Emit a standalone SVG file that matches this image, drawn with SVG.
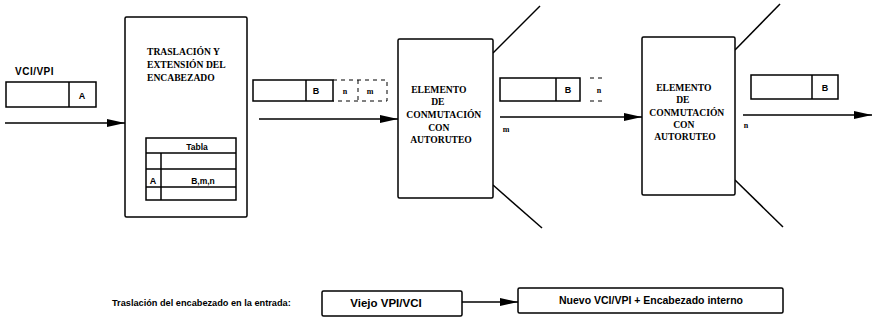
<svg xmlns="http://www.w3.org/2000/svg" width="872" height="336" viewBox="0 0 872 336">
<defs>
<marker id="ah" markerWidth="18" markerHeight="10" refX="18" refY="5" orient="auto" markerUnits="userSpaceOnUse">
<path d="M0,1 L18,5 L0,9 Z" fill="#000"/>
</marker>
<style>
.bx{fill:#fff;stroke:#000;stroke-width:1.5}
.ln{fill:none;stroke:#000;stroke-width:1.5}
.ds{fill:none;stroke:#000;stroke-width:1;stroke-dasharray:4 4}
.ser{font-family:"Liberation Serif","Times New Roman",serif;font-weight:bold;fill:#000}
.san{font-family:"Liberation Sans",Arial,sans-serif;font-weight:bold;fill:#000}
</style>
</defs>
<rect width="872" height="336" fill="#fff"/>
<g id="connectors">
<line class="ln" x1="5" y1="123" x2="125" y2="123" marker-end="url(#ah)"/>
<line class="ln" x1="259" y1="119" x2="398" y2="119" marker-end="url(#ah)"/>
<line class="ln" x1="500" y1="117" x2="642" y2="117" marker-end="url(#ah)"/>
<line class="ln" x1="743" y1="115" x2="872" y2="115" marker-end="url(#ah)"/>
<line class="ln" x1="493" y1="53" x2="540" y2="6"/>
<line class="ln" x1="493" y1="185" x2="542" y2="228"/>
<line class="ln" x1="735" y1="50" x2="780" y2="4"/>
<line class="ln" x1="735" y1="180" x2="783" y2="227"/>
<line class="ln" x1="462" y1="302" x2="518" y2="302" marker-end="url(#ah)"/>
</g>
<g id="vci-input">
<text class="san" x="15" y="75" font-size="10" letter-spacing="0.5">VCI/VPI</text>
<rect class="bx" x="6" y="82" width="90" height="25"/>
<line class="ln" x1="69" y1="82" x2="69" y2="107"/>
<text class="san" x="82" y="99" font-size="9" text-anchor="middle">A</text>
</g>
<g id="traslacion">
<rect class="bx" x="125" y="17" width="122" height="200" rx="1.5"/>
<text class="ser" x="147" y="55" font-size="9.6">TRASLACIÓN Y</text>
<text class="ser" x="147" y="68" font-size="9.6">EXTENSIÓN DEL</text>
<text class="ser" x="147" y="81" font-size="9.6">ENCABEZADO</text>
<g id="tabla">
<rect class="bx" x="146" y="138" width="90" height="62"/>
<line class="ln" x1="146" y1="153" x2="236" y2="153"/>
<line class="ln" x1="146" y1="169" x2="236" y2="169"/>
<line class="ln" x1="146" y1="187" x2="236" y2="187"/>
<line class="ln" x1="161" y1="153" x2="161" y2="200"/>
<text class="san" x="197" y="150" font-size="8.5" text-anchor="middle">Tabla</text>
<text class="san" x="153" y="184" font-size="9" text-anchor="middle">A</text>
<text class="san" x="203" y="184" font-size="8.5" text-anchor="middle">B,m,n</text>
</g>
</g>
<g id="cell1">
<rect class="bx" x="253" y="80" width="80" height="21"/>
<line class="ln" x1="306" y1="80" x2="306" y2="101"/>
<text class="san" x="316" y="94" font-size="9" text-anchor="middle">B</text>
<path class="ds" d="M333,80 H387 V101 H333 M358,80 V101"/>
<text class="ser" x="345" y="94" font-size="8" text-anchor="middle">n</text>
<text class="ser" x="370" y="94" font-size="8" text-anchor="middle">m</text>
</g>
<g id="elemento1">
<rect class="bx" x="398" y="39" width="95" height="159" rx="1.5"/>
<text class="ser" font-size="9.6" text-anchor="middle">
<tspan x="440" y="93">ELEMENTO</tspan>
<tspan x="439" y="105">DE</tspan>
<tspan x="445" y="118">CONMUTACIÓN</tspan>
<tspan x="440" y="131">CON</tspan>
<tspan x="441" y="143">AUTORUTEO</tspan>
</text>
</g>
<g id="cell2">
<rect class="bx" x="500" y="78" width="80" height="23"/>
<line class="ln" x1="556" y1="78" x2="556" y2="101"/>
<text class="san" x="568" y="93" font-size="9" text-anchor="middle">B</text>
<path class="ds" d="M590,78 H606 M590,101 H606"/>
<text class="ser" x="599" y="93" font-size="8" text-anchor="middle">n</text>
<text class="ser" x="506" y="132" font-size="8" text-anchor="middle">m</text>
</g>
<g id="elemento2">
<rect class="bx" x="642" y="37" width="93" height="158" rx="1.5"/>
<text class="ser" font-size="9.6" text-anchor="middle">
<tspan x="685" y="91">ELEMENTO</tspan>
<tspan x="684" y="103">DE</tspan>
<tspan x="688" y="116">CONMUTACIÓN</tspan>
<tspan x="685" y="128">CON</tspan>
<tspan x="685" y="140">AUTORUTEO</tspan>
</text>
</g>
<g id="cell3">
<rect class="bx" x="751" y="75" width="87" height="24"/>
<line class="ln" x1="812" y1="75" x2="812" y2="99"/>
<text class="san" x="825" y="91" font-size="9" text-anchor="middle">B</text>
<text class="ser" x="746" y="128" font-size="8" text-anchor="middle">n</text>
</g>
<g id="leyenda">
<text class="san" x="112" y="306" font-size="9.2">Traslación del encabezado en la entrada:</text>
</g>
<g id="viejo">
<rect class="bx" x="322" y="291" width="140" height="25" rx="1.5"/>
<text class="san" x="386" y="307" font-size="11.5" text-anchor="middle">Viejo  VPI/VCI</text>
</g>
<g id="nuevo">
<rect class="bx" x="518" y="288" width="265" height="25" rx="1.5"/>
<text class="san" x="651" y="304" font-size="10.5" text-anchor="middle">Nuevo VCI/VPI + Encabezado interno</text>
</g>
</svg>
